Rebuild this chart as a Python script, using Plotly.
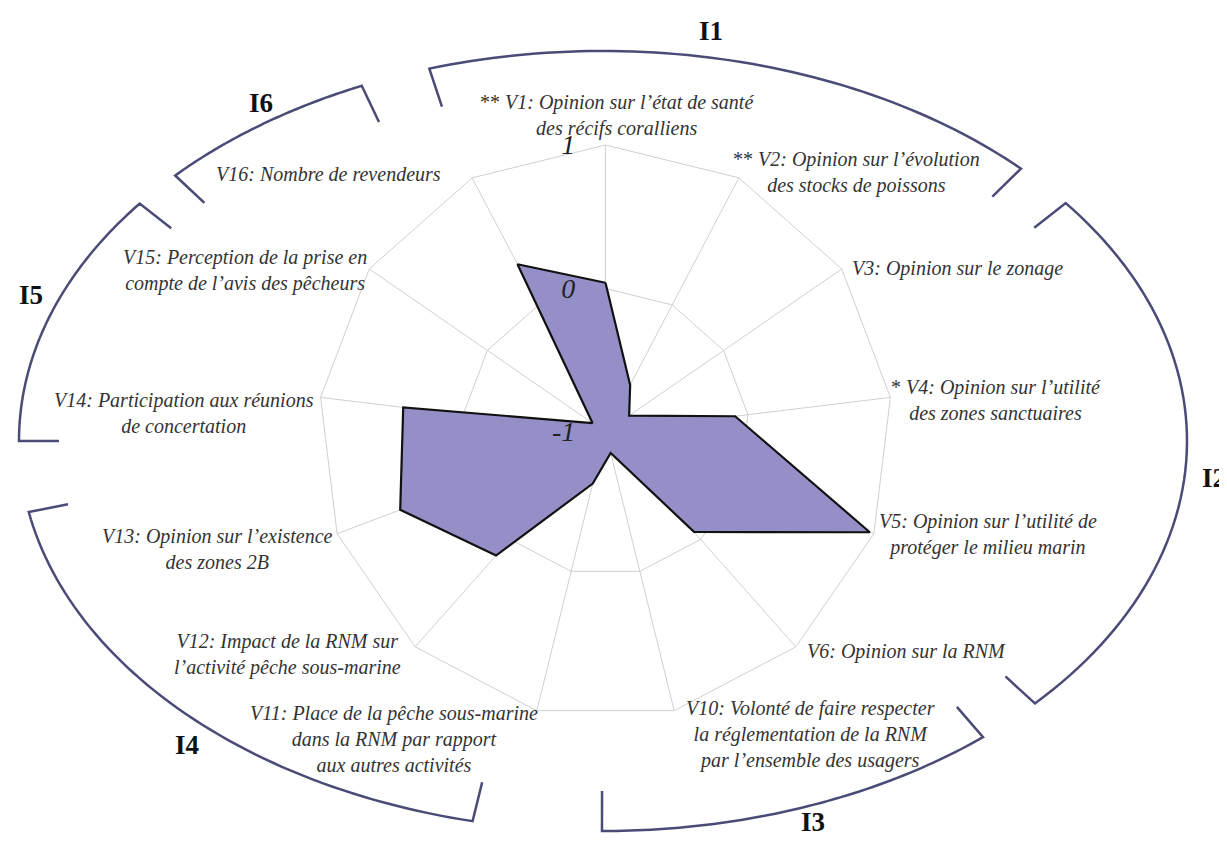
import numpy as np
import plotly.graph_objects as go

W, H = 1227, 841

# data
variables = ["V1", "V2", "V3", "V4", "V5", "V6", "V10", "V11", "V12", "V13", "V14", "V15", "V16"]
scores = [0.04, -0.63, -0.80, -0.09, 0.97, -0.07, -0.85, -0.63, 0.15, 0.53, 0.42, -0.89, 0.32]
labels = [
    "<span style='font-style:normal'>**</span> V1: Opinion sur l’état de santé<br>des récifs coralliens",
    "<span style='font-style:normal'>**</span> V2: Opinion sur l’évolution<br>des stocks de poissons",
    "V3: Opinion sur le zonage",
    "<span style='font-style:normal'>*</span> V4: Opinion sur l’utilité<br>des zones sanctuaires",
    "V5: Opinion sur l’utilité de<br>protéger le milieu marin",
    "V6: Opinion sur la RNM",
    "V10: Volonté de faire respecter<br>la réglementation de la RNM<br>par l’ensemble des usagers",
    "V11: Place de la pêche sous-marine<br>dans la RNM par rapport<br>aux autres activités",
    "V12: Impact de la RNM sur<br>l’activité pêche sous-marine",
    "V13: Opinion sur l’existence<br>des zones 2B",
    "V14: Participation aux réunions<br>de concertation",
    "V15: Perception de la prise en<br>compte de l’avis des pêcheurs",
    "V16: Nombre de revendeurs",
]
radial_ticks = [-1, 0, 1]
radial_text = ["-1", "0", "1"]

# indicator groups drawn as brackets on an ellipse around the radar
groups = ["I1", "I2", "I3", "I4", "I5", "I6"]

# layout: label block centres (px), bracket geometry (px / ellipse parameter in degrees)
label_pos = [(609, 107), (848, 164), (949, 260), (988, 392), (980, 526), (898, 643), (802, 726),
             (386, 731), (279, 646), (209, 541), (176, 405), (237, 262), (320, 166)]
ell_cx, ell_cy, ell_a, ell_b = 595, 433, 584, 390
bracket_arcs = [(44.3, 107.3), (-42.3, 37.6), (-90.1, -49.4), (190.5, 257.1), (142.5, 180.0), (114.4, 137.1)]
group_pos = [(703, 23), (1206, 470), (805, 814), (179, 737), (23, 287), (253, 95)]
tick_len = 40

FONT = "Liberation Serif"


def px(x, y):
    return x / W, 1 - y / H


def ell_point(t):
    r = np.radians(t)
    return ell_cx + ell_a * np.cos(r), ell_cy - ell_b * np.sin(r)


def end_tick(t):
    x, y = ell_point(t)
    # inward direction: mix of radial and ellipse normal
    rx, ry = ell_cx - x, ell_cy - y
    n = np.hypot(rx, ry)
    rx, ry = rx / n, ry / n
    r = np.radians(t)
    nx, ny = -np.cos(r) / ell_a, np.sin(r) / ell_b
    n = np.hypot(nx, ny)
    nx, ny = nx / n, ny / n
    dx, dy = rx + nx, ry + ny
    n = np.hypot(dx, dy)
    return x + tick_len * dx / n, y + tick_len * dy / n


shapes = []
for t0, t1 in bracket_arcs:
    pts = [end_tick(t0)]
    for t in np.linspace(t0, t1, 60):
        pts.append(ell_point(t))
    pts.append(end_tick(t1))
    path = "M " + " L ".join("%.5f,%.5f" % px(x, y) for x, y in pts)
    shapes.append(dict(type="path", path=path, xref="paper", yref="paper",
                       line=dict(color="#4b4b78", width=2.5)))

annotations = []
for name, (x, y) in zip(groups, group_pos):
    ax, ay = px(x, y)
    annotations.append(dict(text="<b>%s</b>" % name, x=ax, y=ay, xref="paper", yref="paper",
                            showarrow=False, xanchor="center", yanchor="middle",
                            font=dict(family=FONT, size=27, color="#111")))

for text, (x, y) in zip(labels, label_pos):
    ax, ay = px(x, y)
    annotations.append(dict(text=text, x=ax, y=ay, xref="paper", yref="paper",
                            showarrow=False, xanchor="center", yanchor="middle", align="center",
                            font=dict(family=FONT, size=20, style="italic", color="#333")))

fig = go.Figure()
fig.add_trace(go.Scatterpolar(
    r=scores + scores[:1],
    theta=variables + variables[:1],
    mode="lines",
    fill="toself",
    fillcolor="#958fc8",
    line=dict(color="#111111", width=2.2),
    hoverinfo="skip",
    showlegend=False,
))

# radar centre at (597.5, 424) px, radius 287 px
cx, cy, R = 597.5, 424, 287
fig.update_layout(
    width=W, height=H,
    margin=dict(l=0, r=0, t=0, b=0),
    paper_bgcolor="white",
    shapes=shapes,
    annotations=annotations,
    polar=dict(
        domain=dict(x=[(cx - R) / W, (cx + R) / W], y=[(H - cy - R) / H, (H - cy + R) / H]),
        bgcolor="white",
        gridshape="linear",
        radialaxis=dict(
            range=[-1, 1], tickvals=radial_ticks, ticktext=radial_text,
            angle=90, side="counterclockwise", tickangle=90, showline=False,
            ticks="outside", ticklen=20, tickcolor="rgba(0,0,0,0)",
            gridcolor="#d0d0d0", gridwidth=1,
            tickfont=dict(family=FONT, size=28, style="italic", color="#222"),
        ),
        angularaxis=dict(
            type="category", rotation=90, direction="clockwise",
            tickvals=variables, showticklabels=False, ticks="",
            showline=True, linecolor="#d0d0d0", linewidth=1,
            gridcolor="#d0d0d0", gridwidth=1,
        ),
    ),
)

fig.write_html("out.html")
